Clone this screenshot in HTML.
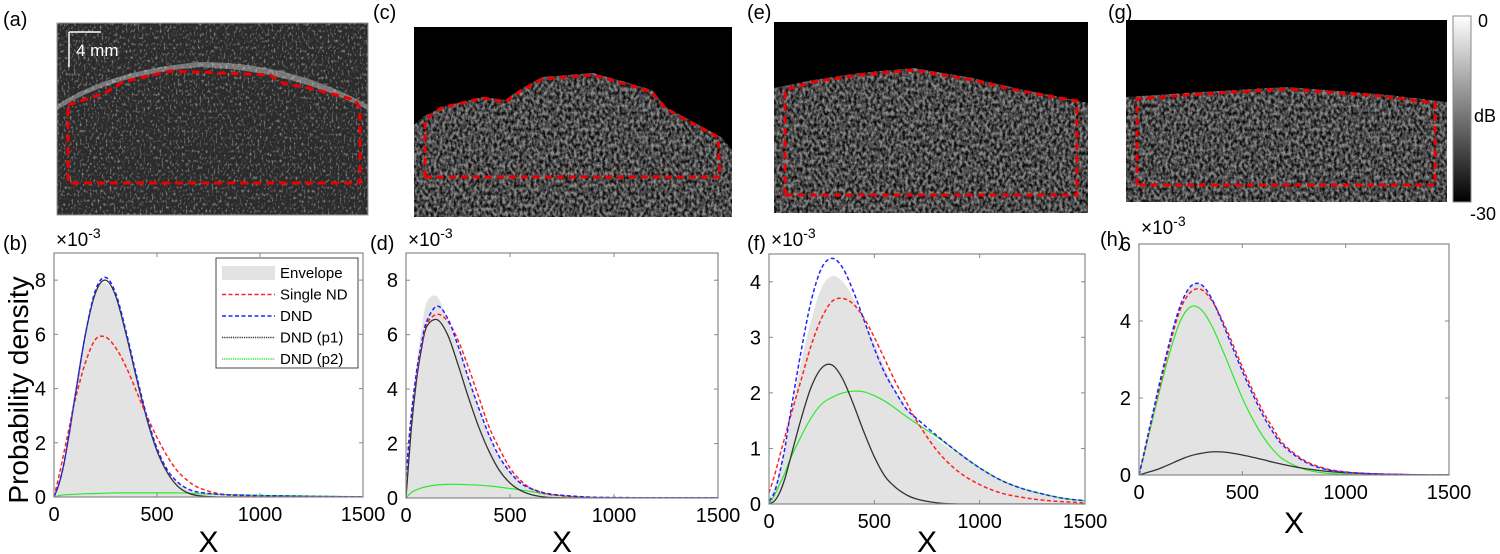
<!DOCTYPE html>
<html><head><meta charset="utf-8"><style>
body{margin:0;background:#fff;}
svg{display:block;font-family:"Liberation Sans",sans-serif;}
</style></head><body>
<svg id="fig" width="1500" height="554" viewBox="0 0 1500 554">
<defs>
<filter id="speck" x="0" y="0" width="100%" height="100%">
<feTurbulence type="fractalNoise" baseFrequency="0.35 0.25" numOctaves="2" seed="3"/>
<feColorMatrix type="matrix" values="0 0 0 0 0  0 0 0 0 0  0 0 0 0 0  0 0 0 -2.2 1.6"/>
</filter>
<filter id="speck2" x="0" y="0" width="100%" height="100%">
<feTurbulence type="fractalNoise" baseFrequency="0.5 0.3" numOctaves="2" seed="7"/>
<feColorMatrix type="matrix" values="0 0 0 0 1  0 0 0 0 1  0 0 0 0 1  0 0 0 3 -1.6"/>
</filter>
<linearGradient id="cbar" x1="0" y1="1" x2="0" y2="0"><stop offset="0" stop-color="#000"/><stop offset="1" stop-color="#fff"/></linearGradient>
<clipPath id="ca"><rect x="57" y="23" width="311" height="192"/></clipPath>
<clipPath id="cc"><rect x="414" y="27" width="318" height="190"/></clipPath>
<clipPath id="ce"><rect x="774" y="22" width="314" height="191"/></clipPath>
<clipPath id="cg"><rect x="1126" y="20" width="321" height="182"/></clipPath>
</defs>

<g clip-path="url(#ca)">
<rect x="57" y="23" width="311" height="192" fill="#2b2b2b"/>
<path d="M57,105 Q110,70 200,62 Q290,62 368,105 L368,110 Q290,70 200,67 Q110,75 57,110Z" fill="#aaa" opacity="0.6"/>
<rect x="57" y="23" width="311" height="192" fill="#555" filter="url(#speck2)" opacity="0.5"/>
</g>
<rect x="57" y="23" width="311" height="192" fill="none" stroke="#999" stroke-width="1"/>
<g stroke="#fff" stroke-width="1.5"><line x1="69" y1="32" x2="69" y2="67"/><line x1="69" y1="32" x2="101" y2="32"/></g>
<text x="76" y="56" font-size="17" fill="#fff">4 mm</text>
<polygon points="68,105 105,93 123,82 170,71 270,75 283,83 313,89 355,100 360,108 360,183 68,183" fill="none" stroke="#e00" stroke-width="3" stroke-dasharray="8 5"/>

<g clip-path="url(#cc)">
<rect x="414" y="27" width="318" height="190" fill="#000"/>
<path d="M414,125 L423,117 441,107 483,97 505,100 519,90 542,77 593,73 629,83 652,90 666,107 721,137 732,150 732,217 414,217Z" fill="#8a8a8a"/>
<path d="M414,125 L423,117 441,107 483,97 505,100 519,90 542,77 593,73 629,83 652,90 666,107 721,137 732,150 732,217 414,217Z" fill="#fff" filter="url(#speck)" opacity="0.9"/>
</g>
<polyline points="425,177 425,120 441,108 483,98 505,102 519,92 542,79 593,75 629,85 652,92 666,109 718,137 720,177 425,177" fill="none" stroke="#e00" stroke-width="3" stroke-dasharray="7 5"/>

<g clip-path="url(#ce)">
<rect x="774" y="22" width="314" height="191" fill="#000"/>
<path d="M774,88 L813,80 859,73 914,68 973,78 1015,88 1074,100 1088,103 1088,213 774,213Z" fill="#8a8a8a"/>
<path d="M774,88 L813,80 859,73 914,68 973,78 1015,88 1074,100 1088,103 1088,213 774,213Z" fill="#fff" filter="url(#speck)" opacity="0.9"/>
</g>
<polyline points="785,195 785,90 813,82 859,75 914,70 973,80 1015,90 1077,101 1077,195 785,195" fill="none" stroke="#e00" stroke-width="3" stroke-dasharray="7 5"/>

<g clip-path="url(#cg)">
<rect x="1126" y="20" width="321" height="182" fill="#000"/>
<path d="M1126,97 L1200,92 1287,87 1380,94 1447,102 1447,202 1126,202Z" fill="#8a8a8a"/>
<path d="M1126,97 L1200,92 1287,87 1380,94 1447,102 1447,202 1126,202Z" fill="#fff" filter="url(#speck)" opacity="0.9"/>
</g>
<polyline points="1137,185 1137,99 1200,94 1287,89 1380,96 1435,103 1435,185 1137,185" fill="none" stroke="#e00" stroke-width="3" stroke-dasharray="7 5"/>

<rect x="1453" y="16" width="18" height="186" fill="url(#cbar)" stroke="#888"/>
<text x="1478" y="27" font-size="18">0</text>
<text x="1474" y="122" font-size="18">dB</text>
<text x="1470" y="220" font-size="18">-30</text>

<g font-size="20">
<text x="3" y="26">(a)</text><text x="3" y="250">(b)</text>
<text x="373" y="19">(c)</text><text x="370" y="250">(d)</text>
<text x="747" y="19">(e)</text><text x="747" y="250">(f)</text>
<text x="1108" y="19">(g)</text><text x="1100" y="246">(h)</text>
</g>
<text transform="translate(28,390) rotate(-90)" text-anchor="middle" font-size="28">Probability density</text>
<g id="plots"></g>
</svg>
<script>
const xs=[0,25,50,75,100,150,200,250,300,350,400,450,500,550,600,650,700,800,900,1000,1100,1200,1300,1400,1500];
const bEnv=[0,0.5,1.2,2.3,3.5,5.8,7.5,7.9,7.3,6.0,4.4,3.0,1.8,1.0,0.55,0.3,0.18,0.1,0.07,0.05,0.04,0.03,0.02,0.01,0.01];
const bSingle=[0,0.8,1.7,2.6,3.5,4.9,5.8,5.9,5.5,4.8,3.9,3.0,2.2,1.5,0.95,0.6,0.35,0.12,0.05,0.02,0.01,0.01,0.01,0.01,0.01];
const bDND=[0,0.5,1.3,2.4,3.6,5.9,7.6,8.1,7.5,6.1,4.5,3.0,1.8,1.0,0.55,0.3,0.18,0.1,0.07,0.05,0.04,0.03,0.02,0.01,0.01];
const bP1=[0,0.5,1.3,2.4,3.6,5.9,7.5,8.0,7.4,6.0,4.4,2.9,1.7,0.9,0.4,0.15,0.05,0,0,0,0,0,0,0,0];
const bP2=[0,0.05,0.08,0.09,0.1,0.12,0.13,0.14,0.15,0.15,0.15,0.15,0.15,0.15,0.15,0.14,0.12,0.1,0.08,0.06,0.05,0.04,0.03,0.02,0.01];
const dEnv=[0.5,3.0,4.8,6.2,7.2,7.4,6.5,5.6,4.4,3.3,2.3,1.5,0.95,0.6,0.4,0.25,0.15,0.07,0.03,0.02,0.01,0.01,0.01,0.01,0.01];
const dSingle=[0.8,3.0,4.5,5.6,6.4,6.75,6.5,5.8,4.8,3.7,2.6,1.8,1.1,0.65,0.35,0.2,0.12,0.05,0.02,0.01,0.01,0.01,0.01,0.01,0.01];
const dDND=[0.8,3.0,4.6,5.7,6.5,7.05,6.6,5.6,4.4,3.3,2.3,1.5,0.95,0.55,0.35,0.22,0.14,0.07,0.03,0.02,0.01,0.01,0.01,0.01,0.01];
const dP1=[0,2.5,4.3,5.5,6.3,6.55,6.0,4.9,3.7,2.6,1.7,1.0,0.55,0.28,0.13,0.05,0.02,0,0,0,0,0,0,0,0];
const dP2=[0,0.2,0.3,0.37,0.42,0.48,0.5,0.5,0.49,0.47,0.44,0.4,0.35,0.3,0.24,0.17,0.12,0.05,0.02,0.01,0,0,0,0,0];
const fEnv=[0.1,0.3,0.6,1.0,1.5,2.5,3.3,3.9,4.1,4.0,3.7,3.3,2.9,2.45,2.05,1.75,1.5,1.15,0.9,0.65,0.43,0.28,0.18,0.1,0.06];
const fSingle=[0.2,0.5,0.85,1.2,1.55,2.2,2.85,3.35,3.65,3.7,3.6,3.35,3.0,2.6,2.2,1.85,1.5,0.95,0.58,0.35,0.2,0.12,0.07,0.04,0.02];
const fDND=[0.05,0.2,0.55,1.0,1.6,2.7,3.65,4.25,4.42,4.25,3.83,3.32,2.8,2.35,2.02,1.72,1.54,1.22,0.92,0.65,0.43,0.28,0.18,0.1,0.06];
const fP1=[0,0.05,0.2,0.45,0.8,1.5,2.1,2.45,2.5,2.25,1.8,1.3,0.85,0.5,0.3,0.17,0.09,0.02,0,0,0,0,0,0,0];
const fP2=[0,0.15,0.35,0.55,0.8,1.2,1.55,1.8,1.92,2.0,2.03,2.02,1.95,1.85,1.72,1.58,1.45,1.2,0.92,0.65,0.43,0.28,0.18,0.1,0.06];
const hEnv=[0,0.6,1.2,1.8,2.4,3.5,4.4,4.9,4.95,4.6,4.0,3.35,2.7,2.1,1.55,1.1,0.75,0.35,0.15,0.07,0.04,0.02,0.01,0,0];
const hSingle=[0,0.55,1.15,1.75,2.3,3.4,4.3,4.75,4.82,4.55,4.05,3.45,2.8,2.2,1.65,1.2,0.8,0.38,0.17,0.08,0.04,0.02,0.01,0,0];
const hDND=[0,0.6,1.2,1.8,2.4,3.5,4.4,4.9,4.95,4.6,4.0,3.35,2.7,2.1,1.55,1.1,0.75,0.35,0.15,0.07,0.04,0.02,0.01,0,0];
const hP1=[0,0.04,0.08,0.12,0.17,0.28,0.4,0.5,0.56,0.6,0.6,0.57,0.52,0.46,0.4,0.33,0.27,0.17,0.1,0.06,0.03,0.02,0.01,0,0];
const hP2=[0,0.55,1.1,1.65,2.2,3.2,4.0,4.37,4.3,3.9,3.3,2.65,2.0,1.45,1.0,0.65,0.4,0.15,0.05,0.02,0,0,0,0,0];
const xTicks=[0,500,1000,1500];

const NS="http://www.w3.org/2000/svg";
const root=document.getElementById('plots');
function mk(tag,attrs,parent){const e=document.createElementNS(NS,tag);for(const k in attrs)e.setAttribute(k,attrs[k]);parent.appendChild(e);return e;}
function smooth(pts){let d='M'+pts[0][0].toFixed(1)+','+pts[0][1].toFixed(1);
 for(let i=0;i<pts.length-1;i++){const p0=pts[Math.max(i-1,0)],p1=pts[i],p2=pts[i+1],p3=pts[Math.min(i+2,pts.length-1)];
 const c1=[p1[0]+(p2[0]-p0[0])/6,p1[1]+(p2[1]-p0[1])/6],c2=[p2[0]-(p3[0]-p1[0])/6,p2[1]-(p3[1]-p1[1])/6];
 d+=' C'+c1.map(v=>v.toFixed(1))+' '+c2.map(v=>v.toFixed(1))+' '+p2[0].toFixed(1)+','+p2[1].toFixed(1);}return d;}

function panel(id,L,R,T,B,ymax,yTicks,series,legend,exY){
 const g=mk('g',{},root);
 
 
 const sx=v=>L+(v/1500)*(R-L), sy=v=>B-(v/ymax)*(B-T);
 const clipId='clip'+id;
 const cp=mk('clipPath',{id:clipId},g);mk('rect',{x:L,y:T,width:R-L,height:B-T},cp);
 const pts=a=>xs.map((x,i)=>[sx(x),sy(a[i])]);
 const env=mk('path',{d:smooth(pts(series.env))+' L'+sx(1500)+','+B+' L'+sx(0)+','+B+'Z',fill:'#e3e3e3','clip-path':'url(#'+clipId+')'},g);
 
 
 const st=[['p2','#2ee82e','none',1.2,'dnd-p2'],['p1','#333','none',1.3,'dnd-p1'],['single','#f22','4 2.5',1.5,'single-nd'],['dnd','#22f','4 2.5',1.5,'dnd']];
 st.forEach(s=>{const p=mk('path',{d:smooth(pts(series[s[0]])),fill:'none',stroke:s[1],'stroke-dasharray':s[2],'stroke-width':s[3],'clip-path':'url(#'+clipId+')'},g);
  
  });
 const box=mk('rect',{x:L,y:T,width:R-L,height:B-T,fill:'none',stroke:'#888','stroke-width':1.2},g);
 
 
 xTicks.forEach(t=>{const x=sx(t);mk('line',{x1:x,y1:B,x2:x,y2:B-4,stroke:'#888'},g);mk('line',{x1:x,y1:T,x2:x,y2:T+4,stroke:'#888'},g);
  const tx=mk('text',{x:x,y:B+24,'font-size':20,'text-anchor':'middle'},g);tx.textContent=t;
  
  });
 yTicks.forEach(t=>{const y=sy(t);mk('line',{x1:L,y1:y,x2:L+4,y2:y,stroke:'#888'},g);mk('line',{x1:R,y1:y,x2:R-4,y2:y,stroke:'#888'},g);
  const tx=mk('text',{x:L-8,y:y+7,'font-size':20,'text-anchor':'end'},g);tx.textContent=t;
  
  });
 const ex=mk('text',{x:L+2,y:exY,'font-size':19},g);ex.innerHTML='×10<tspan dy="-8" font-size="14">-3</tspan>';
 
 
 const xl=mk('text',{x:(L+R)/2,y:Math.min(B+58,552),'font-size':30,'text-anchor':'middle'},g);xl.textContent='X';
 
 
 if(legend){const lg=mk('g',{},g);
  
  
  mk('rect',{x:216,y:258,width:142,height:110,fill:'#fff',stroke:'#444','stroke-width':1},lg);
  const items=[['Envelope'],['Single ND','#f22','4 2.5'],['DND','#22f','4 2.5'],['DND (p1)','#333','1.2 1'],['DND (p2)','#2ee82e','1.2 1']];
  items.forEach((it,i)=>{const y=273+i*21.5;
   if(i===0)mk('rect',{x:222,y:y-7,width:53,height:14,fill:'#e3e3e3'},lg);
   else mk('line',{x1:222,y1:y,x2:275,y2:y,stroke:it[1],'stroke-dasharray':it[2],'stroke-width':1.5},lg);
   const t=mk('text',{x:280,y:y+5,'font-size':15},lg);t.textContent=it[0];
   
   });}
}
panel('b',54,363,253,497,9,[0,2,4,6,8],{env:bEnv,single:bSingle,dnd:bDND,p1:bP1,p2:bP2},true,246);
panel('d',406,718,253,498,9,[0,2,4,6,8],{env:dEnv,single:dSingle,dnd:dDND,p1:dP1,p2:dP2},false,246);
panel('f',769,1085,254,504,4.5,[0,1,2,3,4],{env:fEnv,single:fSingle,dnd:fDND,p1:fP1,p2:fP2},false,246);
panel('h',1139,1449,244,475,6,[0,2,4,6],{env:hEnv,single:hSingle,dnd:hDND,p1:hP1,p2:hP2},false,234);
</script>
</body></html>
